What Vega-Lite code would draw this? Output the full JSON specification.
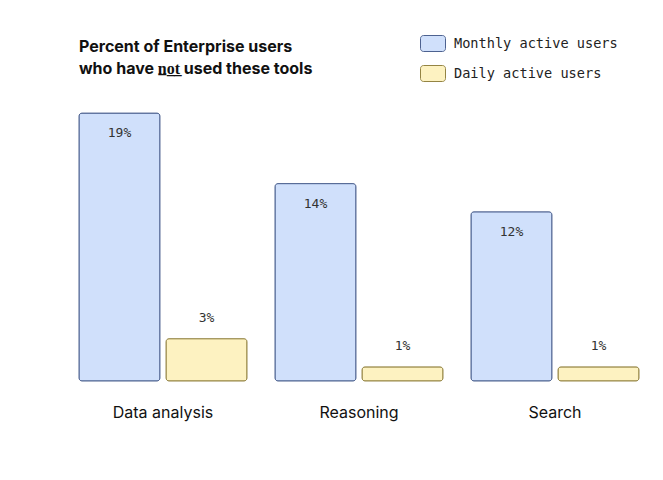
{
  "$schema": "https://vega.github.io/schema/vega-lite/v6.json",
  "width": 588,
  "height": 282,
  "autosize": {"type": "none"},
  "padding": {"left": 65, "top": 99, "right": 10, "bottom": 99},
  "background": "white",
  "config": {"view": {"stroke": null}},
  "title": {
    "text": ["Percent of Enterprise users", "who have n̲o̲t̲ used these tools"],
    "anchor": "start",
    "frame": "group",
    "dx": 14,
    "dy": 66,
    "offset": 20,
    "font": "Inter",
    "fontSize": 16,
    "fontWeight": "bold",
    "color": "#111111",
    "lineHeight": 22
  },
  "data": {
    "values": [
      {"tool": "Data analysis", "series": "Monthly active users", "pct": 19, "label": "19%"},
      {"tool": "Data analysis", "series": "Daily active users", "pct": 3, "label": "3%"},
      {"tool": "Reasoning", "series": "Monthly active users", "pct": 14, "label": "14%"},
      {"tool": "Reasoning", "series": "Daily active users", "pct": 1, "label": "1%"},
      {"tool": "Search", "series": "Monthly active users", "pct": 12, "label": "12%"},
      {"tool": "Search", "series": "Daily active users", "pct": 1, "label": "1%"}
    ]
  },
  "encoding": {
    "x": {
      "field": "tool", "type": "nominal", "sort": null,
      "scale": {"paddingInner": 0.143, "paddingOuter": 0.0715},
      "axis": {"title": null, "labelAngle": 0, "domain": false, "ticks": false, "labelPadding": 31, "labelFont": "Inter", "labelFontSize": 16, "labelColor": "#111111", "labelBaseline": "middle"}
    },
    "xOffset": {
      "field": "series", "type": "nominal",
      "sort": ["Monthly active users", "Daily active users"],
      "scale": {"paddingInner": 0.07, "paddingOuter": 0}
    },
    "y": {
      "field": "pct", "type": "quantitative",
      "scale": {"domain": [0, 20]},
      "axis": null
    }
  },
  "layer": [
    {
      "mark": {"type": "bar", "cornerRadius": 3, "strokeWidth": 1},
      "encoding": {
        "fill": {
          "field": "series", "type": "nominal",
          "sort": ["Monthly active users", "Daily active users"],
          "scale": {"domain": ["Monthly active users", "Daily active users"], "range": ["#d0e0fb", "#fdf2c1"]},
          "legend": {
            "title": null,
            "orient": "none",
            "legendX": 355,
            "legendY": -68.5,
            "padding": 0,
            "rowPadding": 7,
            "symbolType": "M-0.76,-0.64 H0.76 A0.24,0.24 0 0 1 1,-0.4 V0.4 A0.24,0.24 0 0 1 0.76,0.64 H-0.76 A0.24,0.24 0 0 1 -1,0.4 V-0.4 A0.24,0.24 0 0 1 -0.76,-0.64 Z",
            "symbolSize": 625,
            "symbolStrokeWidth": 1,
            "symbolOpacity": 1,
            "labelOffset": 8,
            "labelLimit": 300,
            "labelFont": "DejaVu Sans Mono",
            "labelFontSize": 13.6,
            "labelColor": "#222222"
          }
        },
        "stroke": {
          "field": "series", "type": "nominal",
          "scale": {"domain": ["Monthly active users", "Daily active users"], "range": ["#4d6290", "#948443"]},
          "legend": null
        }
      }
    },
    {
      "transform": [{"filter": "datum.series === 'Monthly active users'"}],
      "mark": {"type": "text", "dy": 20, "baseline": "middle", "font": "DejaVu Sans Mono", "fontSize": 13, "color": "#333333"},
      "encoding": {"text": {"field": "label", "type": "nominal"}}
    },
    {
      "transform": [{"filter": "datum.series === 'Daily active users'"}],
      "mark": {"type": "text", "dy": -21, "baseline": "middle", "font": "DejaVu Sans Mono", "fontSize": 13, "color": "#333333"},
      "encoding": {"text": {"field": "label", "type": "nominal"}}
    }
  ]
}
